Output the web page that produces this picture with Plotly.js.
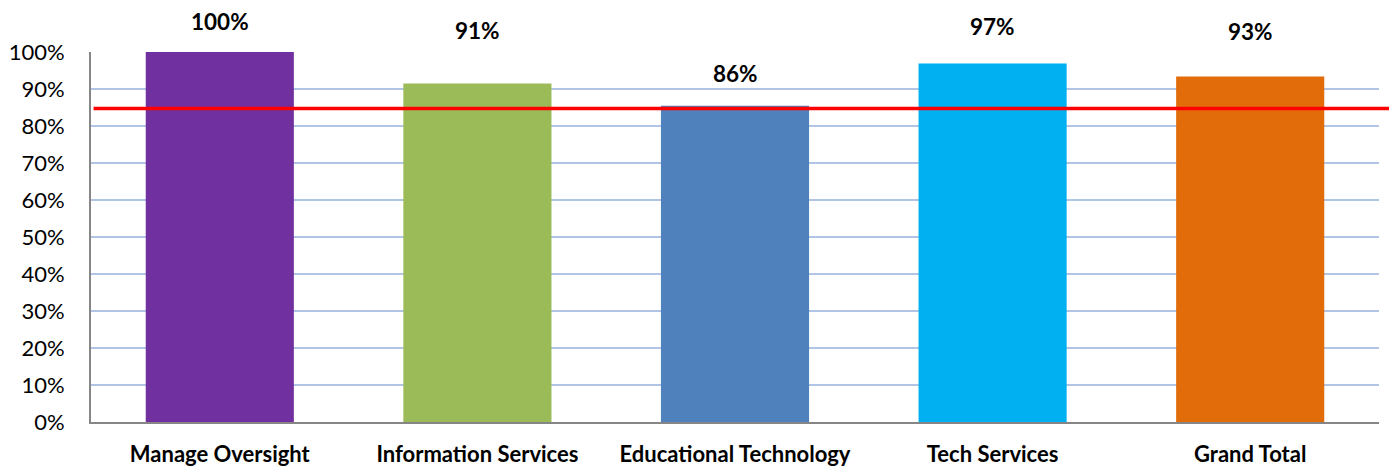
<!DOCTYPE html>
<html>
<head>
<meta charset="utf-8">
<script src="https://cdn.plot.ly/plotly-3.0.1.min.js"></script>
<style>html,body{margin:0;padding:0;background:#fff;}#chart{width:1389px;height:468px;}</style>
</head>
<body>
<div id="chart"></div>
<script>
const categories = ["Manage Oversight", "Information Services", "Educational Technology", "Tech Services", "Grand Total"];
const values = [1.00, 0.915, 0.855, 0.969, 0.934];
const labels = ["100%", "91%", "86%", "97%", "93%"];
const target = 0.847;
const barColors = ["#7030a0", "#9bbb59", "#4f81bd", "#00b0f0", "#e36c0a"];

// label offsets above the bar tops (pixels), styling only
const labelShift = [31, 53, 32, 37, 45];

const FONT = "Lato, 'Open Sans', sans-serif";

const trace = {
  type: "bar",
  x: categories,
  y: values,
  marker: {color: barColors, line: {width: 0}},
  hoverinfo: "x+y"
};

const annotations = categories.map((c, i) => ({
  x: c, y: values[i], xref: "x", yref: "y",
  text: "<b>" + labels[i] + "</b>",
  showarrow: false, yanchor: "middle", yshift: labelShift[i],
  font: {family: FONT, size: 22.5, color: "#000"}
}));

const layout = {
  width: 1389, height: 468,
  margin: {l: 91, r: 10, t: 52, b: 46},
  paper_bgcolor: "#fff", plot_bgcolor: "#fff",
  showlegend: false,
  bargap: 0.425,
  xaxis: {
    type: "category",
    showgrid: false,
    showline: true, linecolor: "#868686", linewidth: 2,
    ticks: "",
    ticklabelstandoff: 12,
    tickfont: {family: FONT, size: 22, color: "#000", weight: "bold"},
    fixedrange: true
  },
  yaxis: {
    range: [0, 1],
    dtick: 0.1, tick0: 0,
    tickformat: ".0%",
    showgrid: true, gridcolor: "#b0c4e6", gridwidth: 1.5,
    zeroline: false,
    showline: true, linecolor: "#868686", linewidth: 2,
    ticks: "",
    ticklabelstandoff: 20,
    tickfont: {family: FONT, size: 22, color: "#000"},
    fixedrange: true
  },
  shapes: [{
    type: "line", xref: "paper", yref: "y",
    x0: 0.002, x1: 1.01, y0: target, y1: target,
    line: {color: "#ff0000", width: 3.5}
  }],
  annotations: annotations
};

Plotly.newPlot("chart", [trace], layout, {displayModeBar: false, staticPlot: true});
</script>
</body>
</html>
